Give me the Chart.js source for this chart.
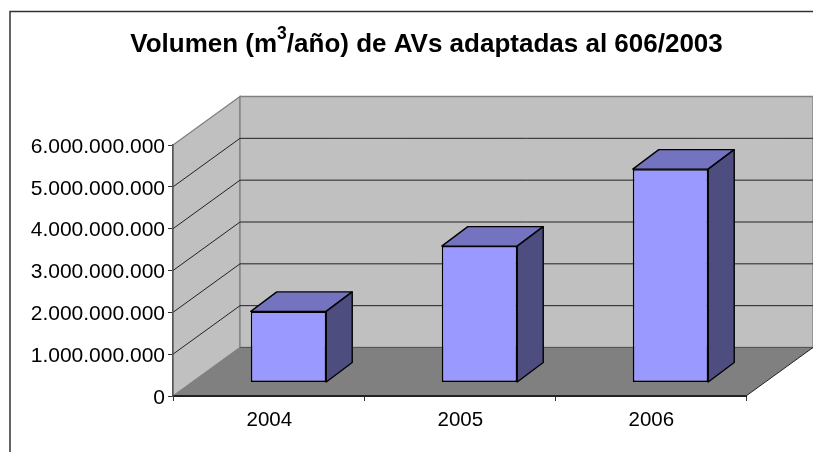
<!DOCTYPE html>
<html>
<head>
<meta charset="utf-8">
<style>html,body{margin:0;padding:0;background:#fff}canvas{display:block}</style>
<script src="https://cdn.jsdelivr.net/npm/chart.js@4"></script>
</head>
<body>
<canvas id="c" width="813" height="452"></canvas>
<script>
const categories = ['2004', '2005', '2006'];
const volumes = [1700000000, 3260000000, 5100000000];
const yTickValues = [0, 1000000000, 2000000000, 3000000000, 4000000000, 5000000000, 6000000000];
const yTickLabels = ['0', '1.000.000.000', '2.000.000.000', '3.000.000.000', '4.000.000.000', '5.000.000.000', '6.000.000.000'];
const titleParts = ['Volumen (m', '3', '/año) de AVs adaptadas al 606/2003'];

const FONT = '"Liberation Sans", Arial, sans-serif';
const WALL = {dx: 67, dy: -48.5};
const BAR = {dx: 26, dy: -19.5, shiftX: 20, shiftY: -13.5};

function poly(ctx, pts, fill, stroke, lw) {
  ctx.beginPath();
  pts.forEach((p, i) => i ? ctx.lineTo(p[0], p[1]) : ctx.moveTo(p[0], p[1]));
  ctx.closePath();
  if (fill) { ctx.fillStyle = fill; ctx.fill(); }
  if (stroke) { ctx.strokeStyle = stroke; ctx.lineWidth = lw || 1; ctx.stroke(); }
}

function nudgeLabels(chart, scale, ox, oy) {
  const drawLabels = scale.drawLabels;
  scale.drawLabels = function (area) {
    chart.ctx.save();
    chart.ctx.translate(ox, oy);
    drawLabels.call(this, area);
    chart.ctx.restore();
  };
}

const scene = {
  id: 'scene',
  afterLayout(chart) {
    nudgeLabels(chart, chart.scales.y, 0, 2);
    nudgeLabels(chart, chart.scales.x, 0.8, 0);
  },
  beforeDraw(chart) {
    const {ctx, chartArea: a, scales: {y}} = chart;
    const {dx, dy} = WALL;
    ctx.save();
    // outer frame
    ctx.strokeStyle = '#333';
    ctx.lineWidth = 1.5;
    ctx.beginPath();
    ctx.moveTo(10, 452); ctx.lineTo(10, 11.5); ctx.lineTo(813, 11.5);
    ctx.stroke();
    // side wall, back wall, floor
    poly(ctx, [[a.left, a.top], [a.left + dx, a.top + dy], [a.left + dx, a.bottom + dy], [a.left, a.bottom]], '#c0c0c0', '#808080', 1.3);
    poly(ctx, [[a.left + dx, a.top + dy], [a.right + dx, a.top + dy], [a.right + dx, a.bottom + dy], [a.left + dx, a.bottom + dy]], '#c0c0c0', '#808080', 1.3);
    poly(ctx, [[a.left, a.bottom], [a.left + dx, a.bottom + dy], [a.right + dx, a.bottom + dy], [a.right, a.bottom]], '#808080', null);
    ctx.strokeStyle = '#555';
    ctx.lineWidth = 1;
    ctx.beginPath();
    ctx.moveTo(a.left + dx, a.bottom + dy); ctx.lineTo(a.right + dx, a.bottom + dy);
    ctx.stroke();
    ctx.strokeStyle = '#222';
    ctx.beginPath();
    ctx.moveTo(a.right, a.bottom); ctx.lineTo(a.right + dx, a.bottom + dy);
    ctx.stroke();
    // grid lines on the walls
    ctx.strokeStyle = '#222';
    ctx.lineWidth = 1;
    yTickValues.slice(1, -1).forEach(v => {
      const p = y.getPixelForValue(v);
      ctx.beginPath();
      ctx.moveTo(a.left, p); ctx.lineTo(a.left + dx, p + dy); ctx.lineTo(a.right + dx, p + dy);
      ctx.stroke();
    });
    ctx.restore();
  },
  beforeDatasetDraw(chart, args) {
    const {ctx} = chart;
    ctx.save();
    ctx.translate(BAR.shiftX, BAR.shiftY);
    const {dx, dy} = BAR;
    ctx.lineJoin = 'round';
    args.meta.data.forEach(el => {
      const l = el.x - el.width / 2, r = el.x + el.width / 2;
      poly(ctx, [[l, el.y], [l + dx, el.y + dy], [r + dx, el.y + dy], [r, el.y]], '#7373bf', '#000', 1.4);
      poly(ctx, [[r, el.y], [r + dx, el.y + dy], [r + dx, el.base + dy], [r, el.base]], '#4d4d80', '#000', 1.4);
    });
  },
  afterDatasetDraw(chart) {
    chart.ctx.restore();
  },
  afterDraw(chart) {
    const {ctx} = chart;
    ctx.save();
    ctx.fillStyle = '#000';
    ctx.textBaseline = 'alphabetic';
    ctx.textAlign = 'left';
    const big = 'bold 26px ' + FONT, small = 'bold 17.5px ' + FONT;
    ctx.font = big;
    const w0 = ctx.measureText(titleParts[0]).width, w2 = ctx.measureText(titleParts[2]).width;
    ctx.font = small;
    const w1 = ctx.measureText(titleParts[1]).width;
    const x = 426.5 - (w0 + w1 + w2) / 2;
    ctx.font = big;
    ctx.fillText(titleParts[0], x, 52);
    ctx.fillText(titleParts[2], x + w0 + w1, 52);
    ctx.font = small;
    ctx.fillText(titleParts[1], x + w0, 39);
    ctx.restore();
  }
};

new Chart(document.getElementById('c'), {
  type: 'bar',
  data: {
    labels: categories,
    datasets: [{
      data: volumes,
      backgroundColor: '#9999ff',
      borderColor: '#000',
      borderWidth: 1.5,
      borderSkipped: false,
      barPercentage: 0.395,
      categoryPercentage: 1,
      clip: false
    }]
  },
  options: {
    responsive: false,
    animation: false,
    layout: {padding: {left: 0, right: 67, top: 145, bottom: 0}},
    plugins: {legend: {display: false}, title: {display: false}, tooltip: {enabled: false}},
    scales: {
      x: {
        afterFit(s) { s.height = 56; },
        offset: true,
        grid: {offset: true, drawOnChartArea: false, drawTicks: true, tickLength: 5, tickColor: '#333', tickWidth: 1},
        border: {color: '#222', width: 2},
        ticks: {color: '#000', font: {family: FONT, size: 20.5}, padding: 7, maxRotation: 0}
      },
      y: {
        afterFit(s) { s.width = 173; },
        min: 0,
        max: 6000000000,
        grid: {drawOnChartArea: false, tickLength: 5, tickColor: '#333', tickWidth: 1},
        border: {color: '#555', width: 1.5},
        afterBuildTicks(s) { s.ticks = yTickValues.map(v => ({value: v})); },
        ticks: {
          color: '#000',
          font: {family: FONT, size: 21},
          padding: 3,
          callback(v) { return yTickLabels[yTickValues.indexOf(v)]; }
        }
      }
    }
  },
  plugins: [scene]
});
</script>
</body>
</html>
